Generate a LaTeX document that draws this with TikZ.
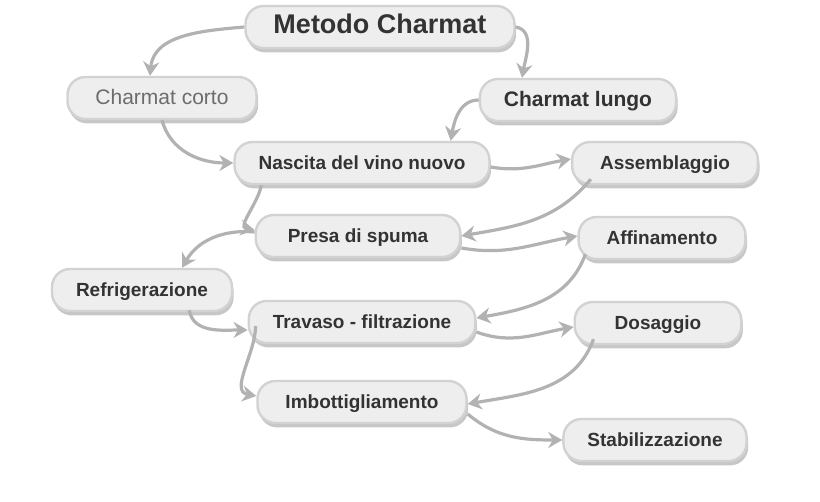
\documentclass[tikz,border=0pt]{standalone}
\usepackage{fontspec}
\setmainfont{Liberation Sans}
\usepackage{xcolor}
\usepackage{tikz}
\usetikzlibrary{arrows.meta,shadows}

\definecolor{inkgray}{HTML}{333333}
\tikzset{
  blob/.style={rounded corners=9pt, fill=gray!13, draw=gray!35, line width=1.2pt,
    inner xsep=12pt, minimum height=21pt, text height=1.6ex, text depth=0.35ex,
    text=inkgray, font=\bfseries\fontsize{9.5}{11}\selectfont,
    drop shadow={fill=gray!55, shadow xshift=0.8pt, shadow yshift=-2.2pt, opacity=0.8}},
  link/.style={draw=gray!60, line width=1.6pt, -{Stealth[length=7pt,width=8pt]}}
}

\begin{document}
\begin{tikzpicture}[x=0.5pt,y=-0.5pt]
\useasboundingbox (0,0) rectangle (820,502);
\node[blob, font=\bfseries\fontsize{13.5}{15}\selectfont, inner xsep=14pt] at (380,27) (meto) {Metodo Charmat};
\node[blob, text=gray!85!black, font=\fontsize{10.5}{12}\selectfont, inner xsep=14pt] at (162,98) (corto) {Charmat corto};
\node[blob, font=\bfseries\fontsize{10.5}{12}\selectfont] at (578,100) (lungo) {Charmat lungo};
\node[blob] at (362,163) (nasc) {Nascita del vino nuovo};
\node[blob, inner xsep=14pt] at (665,163) (assem) {Assemblaggio};
\node[blob, inner xsep=16pt] at (358,236) (presa) {Presa di spuma};
\node[blob, inner xsep=14pt] at (662,238) (affin) {Affinamento};
\node[blob] at (142,290) (refrig) {Refrigerazione};
\node[blob] at (362,322) (trav) {Travaso - filtrazione};
\node[blob, inner xsep=20pt] at (658,323) (dosag) {Dosaggio};
\node[blob, inner xsep=14pt] at (362,402) (imbot) {Imbottigliamento};
\node[blob] at (655,440) (stab) {Stabilizzazione};

\draw[link] (meto.west) to[out=185,in=85] ([xshift=-6pt]corto.north);
\draw[link] (meto.east) to[out=-10,in=80] ([xshift=-28pt]lungo.north);
\draw[link] (corto.south) to[out=-75,in=180] (nasc.west);
\draw[link] (lungo.west) to[out=180,in=80] ([xshift=-20pt]nasc.north east);
\draw[link] ([yshift=-2pt]nasc.east) to[out=-10,in=190] ([yshift=2pt]assem.west);
\draw[link] ([xshift=14pt]nasc.south west) to[out=-100,in=170] ([yshift=3pt]presa.west);
\draw[link] ([xshift=10pt,yshift=3pt]assem.south west) to[out=-130,in=10] (presa.east);
\draw[link] ([yshift=-6pt]presa.east) to[out=-10,in=190] ([yshift=1pt]affin.west);
\draw[link] ([xshift=4pt,yshift=3pt]affin.south west) to[out=-110,in=10] ([yshift=2pt]trav.east);
\draw[link] ([yshift=2pt]presa.west) to[out=175,in=60] ([xshift=20pt]refrig.north);
\draw[link] ([xshift=-22pt,yshift=1pt]refrig.south east) to[out=-80,in=180] ([yshift=-4pt]trav.west);
\draw[link] ([yshift=-5pt]trav.east) to[out=-20,in=190] ([yshift=-2pt]dosag.west);
\draw[link] ([xshift=10pt,yshift=3pt]dosag.south west) to[out=-110,in=10] ([yshift=-1pt]imbot.east);
\draw[link] ([xshift=4pt,yshift=-2pt]trav.west) to[out=-90,in=170] ([yshift=3pt]imbot.west);
\draw[link] ([yshift=-6pt]imbot.east) to[out=-40,in=180] (stab.west);
\end{tikzpicture}
\end{document}
